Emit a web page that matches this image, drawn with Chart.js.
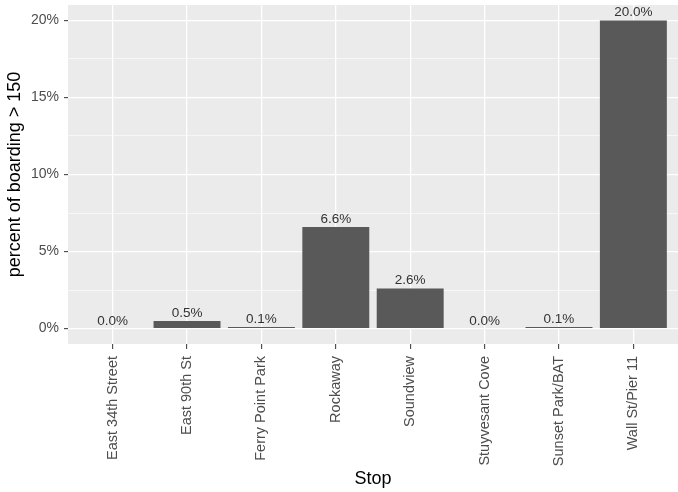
<!DOCTYPE html>
<html>
<head>
<meta charset="utf-8">
<script src="https://cdn.jsdelivr.net/npm/chart.js@4"></script>
<style>
  html, body { margin: 0; padding: 0; background: #fff; }
  #wrap { width: 678px; height: 492px; }
</style>
</head>
<body>
<div id="wrap"><canvas id="stops_graph" width="678" height="492"></canvas></div>
<script>
// данные с картинки
const stops = ["East 34th Street", "East 90th St", "Ferry Point Park", "Rockaway",
  "Soundview", "Stuyvesant Cove", "Sunset Park/BAT", "Wall St/Pier 11"];
const pct_over_150 = [0.0, 0.5, 0.1, 6.6, 2.6, 0.0, 0.1, 20.0];
const y_ticks = [0, 2.5, 5, 7.5, 10, 12.5, 15, 17.5, 20];

const FONT = "'Liberation Sans', Arial, sans-serif";

// серый фон панели как в ggplot
const panelBg = {
  id: 'panelBg',
  beforeDraw(chart) {
    const a = chart.chartArea;
    const ctx = chart.ctx;
    ctx.save();
    ctx.fillStyle = '#EBEBEB';
    ctx.fillRect(a.left, a.top, a.right - a.left, a.bottom - a.top);
    ctx.restore();
  }
};

// подписи над столбиками
const barLabels = {
  id: 'barLabels',
  afterDatasetsDraw(chart) {
    const ctx = chart.ctx;
    const meta = chart.getDatasetMeta(0);
    ctx.save();
    ctx.font = '13.5px ' + FONT;
    ctx.fillStyle = '#333333';
    ctx.textAlign = 'center';
    ctx.textBaseline = 'bottom';
    meta.data.forEach((bar, i) => {
      ctx.fillText(pct_over_150[i].toFixed(1) + '%', bar.x, bar.y - 1);
    });
    ctx.restore();
  }
};

let stops_graph = new Chart(document.getElementById("stops_graph"), {
  type: 'bar',
  data: {
    datasets: [{
      data: stops.map((s, i) => ({x: i, y: pct_over_150[i]})),
      backgroundColor: '#595959',
      borderWidth: 0,
      barPercentage: 0.9,
      categoryPercentage: 1.0
    }]
  },
  options: {
    responsive: false,
    animation: false,
    layout: { padding: { top: 5, right: 0, left: 0, bottom: 0 } },
    plugins: {
      legend: { display: false },
      tooltip: { enabled: false }
    },
    scales: {
      x: {
        type: 'linear',
        offset: false,
        min: -0.6,
        max: stops.length - 1 + 0.6,
        afterBuildTicks: (scale) => {
          scale.ticks = stops.map((s, i) => ({value: i}));
        },
        afterFit: (scale) => {
          scale.height = 148;
          scale.paddingLeft = 0;
          scale.paddingRight = 0;
        },
        border: { display: false },
        grid: {
          offset: false,
          color: '#FFFFFF',
          lineWidth: 1.3,
          tickLength: 5,
          tickColor: '#333333',
          tickWidth: 1
        },
        ticks: {
          autoSkip: false,
          minRotation: 90,
          maxRotation: 90,
          padding: 7,
          color: '#4D4D4D',
          font: { family: FONT, size: 14.5 },
          callback: (v) => stops[v]
        },
        title: {
          display: true,
          text: 'Stop',
          color: '#000000',
          font: { family: FONT, size: 18 },
          padding: { top: 2, bottom: 2 }
        }
      },
      y: {
        min: -1,
        max: 21,
        afterBuildTicks: (scale) => {
          scale.ticks = y_ticks.map(v => ({value: v}));
        },
        afterFit: (scale) => {
          scale.width = 68;
          scale.paddingTop = 0;
          scale.paddingBottom = 0;
        },
        border: { display: false },
        grid: {
          color: '#FFFFFF',
          lineWidth: (c) => (c.tick && c.tick.value % 5 === 0) ? 1.3 : 0.6,
          tickLength: 4,
          tickColor: (c) => (c.tick && c.tick.value % 5 === 0) ? '#333333' : 'rgba(0,0,0,0)',
          tickWidth: 1
        },
        ticks: {
          autoSkip: false,
          padding: 5,
          color: '#4D4D4D',
          font: { family: FONT, size: 14 },
          callback: (v) => (v % 5 === 0) ? v + '%' : ''
        },
        title: {
          display: true,
          text: 'percent of boarding > 150',
          color: '#000000',
          font: { family: FONT, size: 18 },
          padding: { top: 4, bottom: 0 }
        }
      }
    }
  },
  plugins: [panelBg, barLabels]
});
</script>
</body>
</html>
